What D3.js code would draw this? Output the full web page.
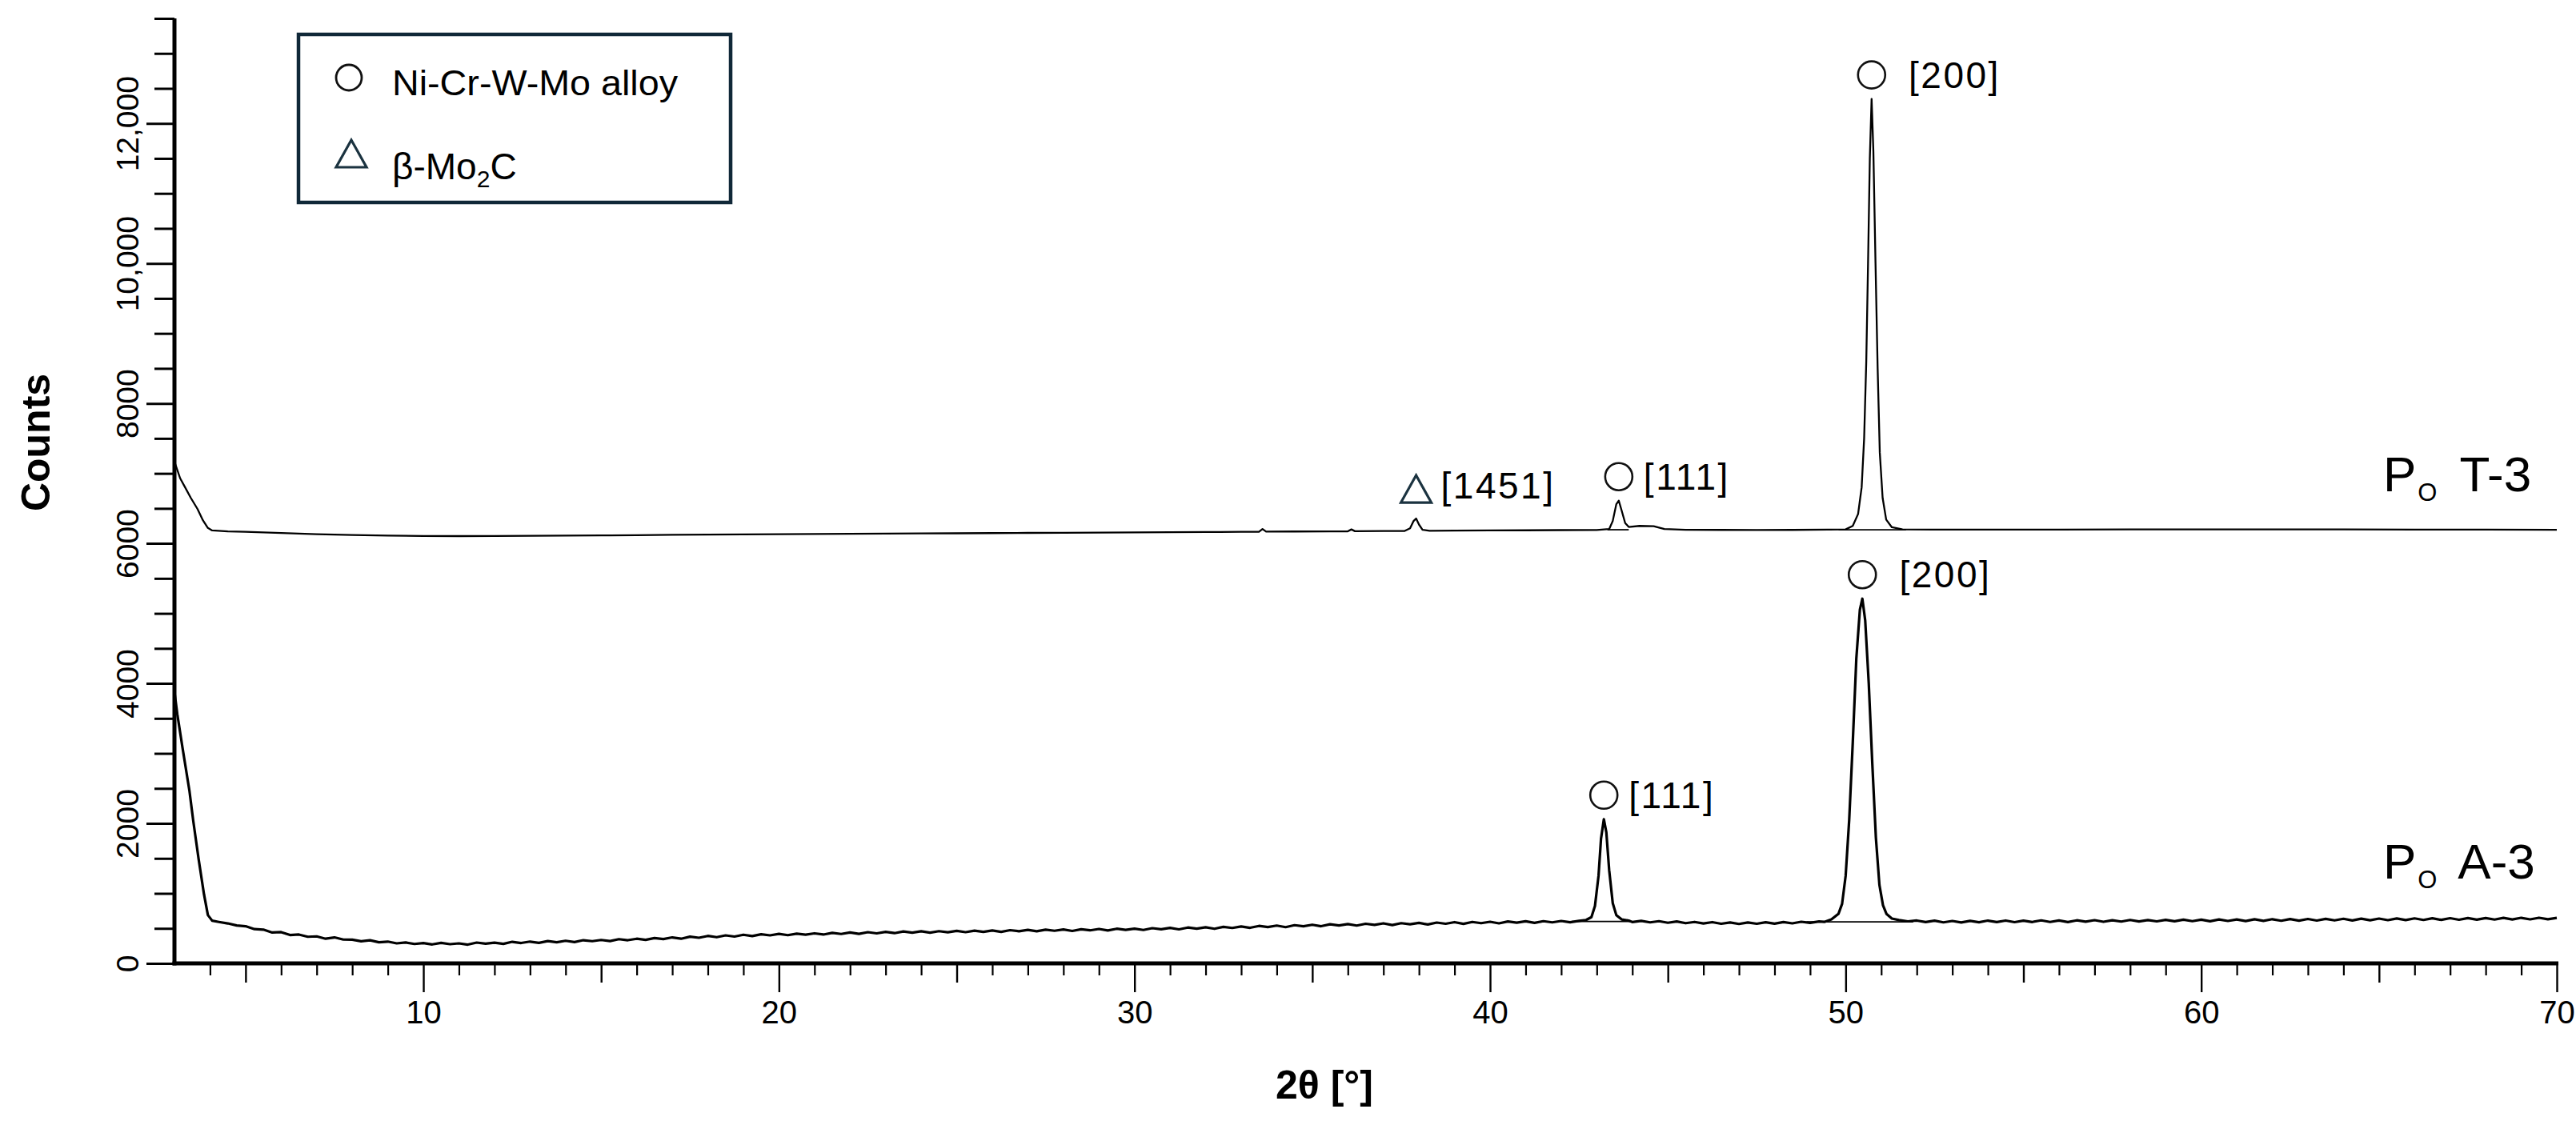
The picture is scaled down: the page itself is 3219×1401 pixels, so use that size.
<!DOCTYPE html>
<html>
<head>
<meta charset="utf-8">
<script src="https://cdn.jsdelivr.net/npm/d3@7"></script>
<style>
  body { margin: 0; background: #fff; }
  svg text { font-family: "Liberation Sans", Arial, sans-serif; fill: #000; }
  .xlab text { font-family: "Liberation Sans Narrow", "Arial Narrow", "Liberation Sans", sans-serif; }
</style>
</head>
<body>
<div class="chart-svg"></div>
<script>
// XRD patterns: [2theta, counts]
var seriesT3 = [[3.0,7170],[3.16,6930],[3.3,6800],[3.46,6650],[3.65,6490],[3.8,6330],[3.94,6220],[4.06,6185],[4.5,6172],[5.0,6165],[6.0,6148],[7.0,6132],[8.0,6120],[9.0,6112],[10.0,6106],[11.0,6104],[12.0,6106],[13.0,6108],[14.0,6112],[15.0,6114],[16.0,6118],[17.0,6122],[18.0,6126],[19.0,6128],[20.0,6132],[21.0,6134],[22.0,6137],[23.0,6139],[24.0,6142],[25.0,6144],[26.0,6147],[27.0,6150],[28.0,6152],[29.0,6155],[30.0,6157],[31.0,6160],[32.0,6162],[33.0,6165],[33.5,6166],[33.6,6205],[33.7,6168],[34.5,6170],[35.5,6172],[36.0,6173],[36.1,6200],[36.2,6174],[37.0,6176],[37.6,6178],[37.75,6215],[37.85,6320],[37.92,6355],[38.0,6270],[38.1,6195],[38.3,6180],[39.0,6182],[40.0,6185],[41.0,6187],[42.0,6190],[43.0,6192],[43.35,6205],[43.45,6320],[43.55,6560],[43.62,6610],[43.7,6470],[43.8,6290],[43.9,6235],[44.2,6250],[44.6,6245],[44.9,6205],[45.5,6195],[46.5,6193],[47.5,6192],[48.5,6193],[49.5,6196],[50.0,6200],[50.2,6250],[50.35,6420],[50.45,6800],[50.52,7500],[50.58,8600],[50.63,10000],[50.68,11500],[50.73,12350],[50.78,11600],[50.84,10000],[50.9,8500],[50.96,7300],[51.04,6650],[51.14,6340],[51.3,6230],[51.6,6200],[52.5,6198],[54.0,6197],[56.0,6198],[58.0,6199],[60.0,6200],[62.0,6200],[64.0,6199],[66.0,6198],[68.0,6196],[70.0,6195]];

var seriesA3 = [[3.0,3880],[3.08,3560],[3.23,3070],[3.42,2470],[3.53,2030],[3.68,1490],[3.83,990],[3.94,690],[4.06,610],[4.25,592],[4.5,571],[4.75,541],[5.0,531],[5.25,489],[5.5,482],[5.75,441],[6.0,447],[6.25,405],[6.5,412],[6.75,380],[7.0,386],[7.25,352],[7.5,371],[7.75,340],[8.0,338],[8.25,315],[8.5,330],[8.75,302],[9.0,311],[9.25,286],[9.5,299],[9.75,277],[10.0,290],[10.25,271],[10.5,293],[10.75,274],[11.0,286],[11.25,268],[11.5,297],[11.75,281],[12.0,295],[12.25,279],[12.5,308],[12.75,291],[13.0,311],[13.25,293],[13.5,318],[13.75,302],[14.0,323],[14.25,304],[14.5,331],[14.75,317],[15.0,334],[15.25,318],[15.5,346],[15.75,331],[16.0,352],[16.25,336],[16.5,361],[16.75,347],[17.0,371],[17.25,352],[17.5,381],[17.75,366],[18.0,392],[18.25,374],[18.5,400],[18.75,383],[19.0,409],[19.25,390],[19.5,416],[19.75,400],[20.0,421],[20.25,403],[20.5,425],[20.75,411],[21.0,429],[21.25,412],[21.5,436],[21.75,420],[22.0,441],[22.25,422],[22.5,446],[22.75,429],[23.0,450],[23.25,432],[23.5,455],[23.75,439],[24.0,458],[24.25,438],[24.5,460],[24.75,445],[25.0,465],[25.25,446],[25.5,468],[25.75,451],[26.0,470],[26.25,450],[26.5,474],[26.75,459],[27.0,478],[27.25,458],[27.5,482],[27.75,466],[28.0,484],[28.25,463],[28.5,488],[28.75,472],[29.0,492],[29.25,470],[29.5,495],[29.75,478],[30.0,496],[30.25,477],[30.5,503],[30.75,487],[31.0,508],[31.25,486],[31.5,512],[31.75,496],[32.0,515],[32.25,494],[32.5,522],[32.75,506],[33.0,528],[33.25,508],[33.5,535],[33.75,519],[34.0,540],[34.25,517],[34.5,546],[34.75,530],[35.0,552],[35.25,531],[35.5,558],[35.75,541],[36.0,561],[36.25,540],[36.5,566],[36.75,550],[37.0,572],[37.25,548],[37.5,574],[37.75,558],[38.0,578],[38.25,556],[38.5,583],[38.75,566],[39.0,589],[39.25,565],[39.5,592],[39.75,574],[40.0,594],[40.25,572],[40.5,598],[40.75,581],[41.0,601],[41.25,578],[41.5,603],[41.75,586],[42.0,606],[42.25,588],[42.5,608],[42.7,620],[42.85,660],[42.95,820],[43.05,1250],[43.12,1780],[43.2,2060],[43.27,1870],[43.35,1330],[43.45,860],[43.55,690],[43.7,628],[43.9,612],[44.0,590],[44.25,608],[44.5,586],[44.75,603],[45.0,580],[45.25,598],[45.5,574],[45.75,592],[46.0,570],[46.25,589],[46.5,566],[46.75,584],[47.0,563],[47.25,585],[47.5,566],[47.75,588],[48.0,568],[48.25,590],[48.5,572],[48.75,594],[49.0,578],[49.25,598],[49.4,592],[49.6,628],[49.8,710],[49.9,850],[50.0,1250],[50.1,2050],[50.2,3150],[50.3,4350],[50.4,5050],[50.47,5210],[50.55,4900],[50.65,4000],[50.75,2850],[50.85,1800],[50.95,1120],[51.05,830],[51.15,705],[51.3,640],[51.5,618],[51.75,600],[52.0,612],[52.25,590],[52.5,610],[52.75,586],[53.0,606],[53.25,584],[53.5,608],[53.75,588],[54.0,611],[54.25,590],[54.5,612],[54.75,589],[55.0,610],[55.25,591],[55.5,614],[55.75,592],[56.0,613],[56.25,590],[56.5,615],[56.75,595],[57.0,617],[57.25,594],[57.5,616],[57.75,597],[58.0,620],[58.25,598],[58.5,619],[58.75,600],[59.0,622],[59.25,601],[59.5,624],[59.75,603],[60.0,625],[60.25,602],[60.5,627],[60.75,606],[61.0,628],[61.25,605],[61.5,630],[61.75,608],[62.0,631],[62.25,609],[62.5,633],[62.75,610],[63.0,634],[63.25,612],[63.5,636],[63.75,614],[64.0,637],[64.25,613],[64.5,638],[64.75,616],[65.0,640],[65.25,617],[65.5,641],[65.75,619],[66.0,643],[66.25,620],[66.5,644],[66.75,621],[67.0,646],[67.25,623],[67.5,647],[67.75,624],[68.0,648],[68.25,626],[68.5,650],[68.75,627],[69.0,651],[69.25,629],[69.5,652],[69.75,630],[70.0,650]];

// fitted background lines under the peaks: [from, to, counts]
var peakBaselines = [[49.8,51.7,6195],[43.3,43.9,6195],[42.3,44.0,598],[48.9,51.9,594]];

// peak annotations
var peakTheta = [37.92, 43.62, 50.73, 43.2, 50.47];
var peakCounts = [6355, 6610, 12350, 2060, 5210];
var peakPhase = ["carbide", "alloy", "alloy", "alloy", "alloy"];
var peakText = ["[1451]", "[111]", " [200]", "[111]", " [200]"];

var xTicks = [10, 20, 30, 40, 50, 60, 70];
var yTicks = [0, 2000, 4000, 6000, 8000, 10000, 12000];
var legendNames = ["Ni-Cr-W-Mo alloy", "β-Mo"];

window.onload = function(){
    var svgWidth = 3219;
    var svgHeight = 1401;

    var svg = d3.select(".chart-svg")
        .append("svg")
        .attr("width", svgWidth)
        .attr("height", svgHeight)
        .style("background", "#fff");

    var xScale = d3.scaleLinear().domain([3, 70]).range([218, 3195]);
    var yScale = d3.scaleLinear().domain([0, 13500]).range([1204, 23]);
    var yBottom = yScale(0);
    var xLeft = xScale(3);

    // x axis: minor, medium and major ticks
    var minorX = d3.range(4, 71).filter(function(d){ return d % 5 != 0; });
    var midX = d3.range(5, 71, 10);

    svg.append("g")
        .attr("transform", "translate(0," + yBottom + ")")
        .call(d3.axisBottom(xScale).tickValues(minorX).tickSize(15).tickFormat(""))
        .call(function(g){ g.select(".domain").remove(); g.selectAll("line").attr("stroke-width", 2.2); });

    svg.append("g")
        .attr("transform", "translate(0," + yBottom + ")")
        .call(d3.axisBottom(xScale).tickValues(midX).tickSize(24).tickFormat(""))
        .call(function(g){ g.select(".domain").remove(); g.selectAll("line").attr("stroke-width", 2.4); });

    svg.append("g")
        .attr("class", "xlab")
        .attr("transform", "translate(0," + yBottom + ")")
        .call(d3.axisBottom(xScale).tickValues(xTicks).tickSize(36).tickPadding(11))
        .call(function(g){
            g.select(".domain").remove();
            g.selectAll("line").attr("stroke-width", 2.4);
            g.selectAll("text").attr("font-size", 40).attr("fill", "#000");
        });

    // y axis: minor every 500, labelled every 2000
    var minorY = d3.range(500, 13501, 500).filter(function(d){ return d % 2000 != 0; });

    svg.append("g")
        .attr("transform", "translate(" + xLeft + ",0)")
        .call(d3.axisLeft(yScale).tickValues(minorY).tickSize(25).tickFormat(""))
        .call(function(g){ g.select(".domain").remove(); g.selectAll("line").attr("stroke-width", 3); });

    svg.append("g")
        .attr("transform", "translate(" + xLeft + ",0)")
        .call(d3.axisLeft(yScale).tickValues(yTicks).tickSize(35)
            .tickFormat(function(d){ return d >= 10000 ? d3.format(",")(d) : d; }))
        .call(function(g){
            g.select(".domain").remove();
            g.selectAll("line").attr("stroke-width", 3);
            g.selectAll("text")
                .attr("font-size", 39)
                .attr("fill", "#000")
                .attr("transform", "rotate(-90)")
                .attr("text-anchor", "middle")
                .attr("x", 0)
                .attr("y", -45)
                .attr("dy", 0);
        });

    // axis lines
    svg.append("line")
        .attr("x1", xLeft).attr("x2", xLeft)
        .attr("y1", yScale(13500)).attr("y2", yBottom + 2.5)
        .attr("stroke", "#000").attr("stroke-width", 5);
    svg.append("line")
        .attr("x1", xLeft - 2.5).attr("x2", xScale(70) + 2)
        .attr("y1", yBottom).attr("y2", yBottom)
        .attr("stroke", "#000").attr("stroke-width", 5);

    // axis titles
    svg.append("text")
        .attr("transform", "translate(62,553) rotate(-90)")
        .attr("text-anchor", "middle")
        .attr("font-size", 50)
        .attr("font-weight", "bold")
        .text("Counts");
    svg.append("text")
        .attr("x", 1655).attr("y", 1373)
        .attr("text-anchor", "middle")
        .attr("font-size", 50)
        .attr("font-weight", "bold")
        .text("2θ [°]");

    // traces
    var line = d3.line()
        .x(function(d){ return xScale(d[0]); })
        .y(function(d){ return yScale(d[1]); });

    svg.append("path")
        .datum(seriesT3)
        .attr("d", line)
        .attr("fill", "none")
        .attr("stroke", "#000")
        .attr("stroke-width", 2.3)
        .attr("stroke-linejoin", "round");

    svg.append("path")
        .datum(seriesA3)
        .attr("d", line)
        .attr("fill", "none")
        .attr("stroke", "#000")
        .attr("stroke-width", 3.2)
        .attr("stroke-linejoin", "round");

    svg.selectAll(".bg-line")
        .data(peakBaselines)
        .enter()
        .append("line")
        .attr("class", "bg-line")
        .attr("x1", function(d){ return xScale(d[0]); })
        .attr("x2", function(d){ return xScale(d[1]); })
        .attr("y1", function(d){ return yScale(d[2]); })
        .attr("y2", function(d){ return yScale(d[2]); })
        .attr("stroke", "#000")
        .attr("stroke-width", 1.8);

    // peak markers and labels
    peakTheta.forEach(function(t, i){
        var cx = xScale(t);
        var tip = yScale(peakCounts[i]);
        var cy;
        if (peakPhase[i] == "alloy"){
            cy = tip - 30;
            svg.append("circle")
                .attr("cx", cx).attr("cy", cy).attr("r", 17)
                .attr("fill", "none").attr("stroke", "#111").attr("stroke-width", 2.6);
        } else {
            cy = tip - 37;
            svg.append("path")
                .attr("d", "M" + cx + "," + (cy - 17) + "L" + (cx + 19) + "," + (cy + 17) + "L" + (cx - 19) + "," + (cy + 17) + "Z")
                .attr("fill", "none").attr("stroke", "#1b3340").attr("stroke-width", 3.2);
        }
        svg.append("text")
            .attr("x", cx + 31)
            .attr("y", cy + (peakPhase[i] == "alloy" ? 16 : 12))
            .attr("font-size", 46)
            .attr("letter-spacing", 2.5)
            .style("white-space", "pre")
            .text(peakText[i]);
    });

    // sample names on the right
    function sampleLabel(name, baseY){
        var t = svg.append("text")
            .attr("x", 2978).attr("y", baseY)
            .attr("font-size", 62);
        t.append("tspan").text("P");
        t.append("tspan").attr("font-size", 31).attr("dx", 2).attr("dy", 12).text("O");
        t.append("tspan").attr("dx", 12).attr("dy", -12).style("white-space", "pre").text(" " + name);
    }
    sampleLabel("T-3", 614);
    sampleLabel("A-3", 1098);

    // legend
    var legend = svg.append("g");
    legend.append("rect")
        .attr("x", 373).attr("y", 43)
        .attr("width", 540).attr("height", 210)
        .attr("fill", "#fff")
        .attr("stroke", "#102838")
        .attr("stroke-width", 4.5);

    legend.append("circle")
        .attr("cx", 436).attr("cy", 97).attr("r", 16)
        .attr("fill", "none").attr("stroke", "#111").attr("stroke-width", 2.8);
    legend.append("text")
        .attr("x", 490).attr("y", 119)
        .attr("font-size", 44)
        .attr("textLength", 357)
        .attr("lengthAdjust", "spacingAndGlyphs")
        .text(legendNames[0]);

    legend.append("path")
        .attr("d", "M439,175L458,209L420,209Z")
        .attr("fill", "none").attr("stroke", "#1b3340").attr("stroke-width", 3.2);
    var l2 = legend.append("text")
        .attr("x", 490).attr("y", 224)
        .attr("font-size", 46);
    l2.append("tspan").text(legendNames[1]);
    l2.append("tspan").attr("font-size", 30).attr("dy", 10).text("2");
    l2.append("tspan").attr("dy", -10).text("C");
};
</script>
</body>
</html>
